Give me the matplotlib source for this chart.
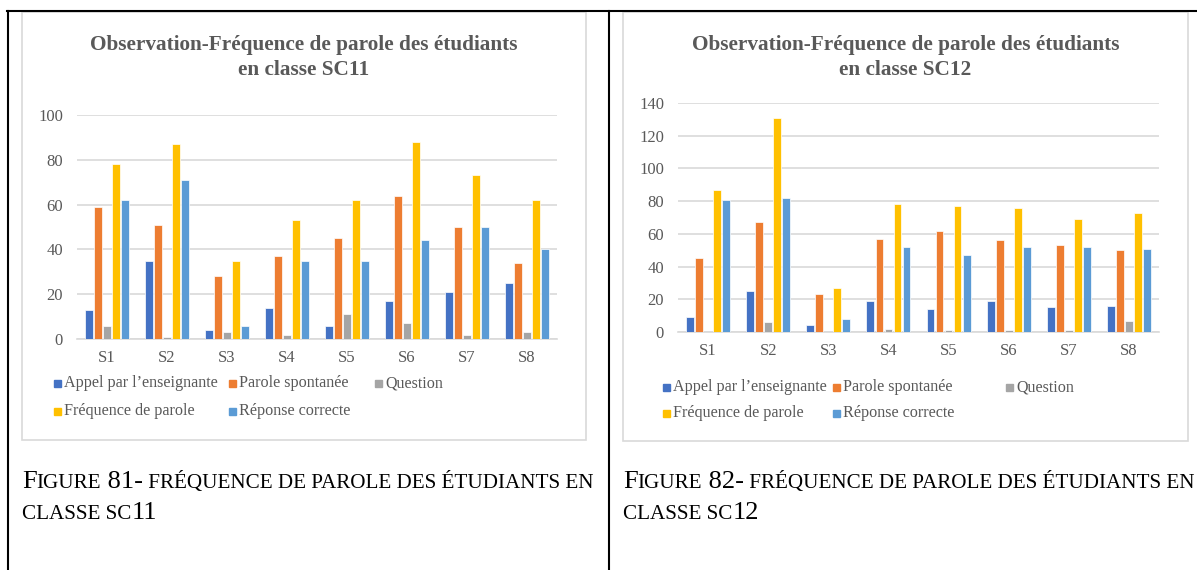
import numpy as np
import matplotlib
matplotlib.use("Agg")
import matplotlib.pyplot as plt
from matplotlib.patches import Rectangle
from matplotlib.lines import Line2D

plt.rcParams['font.family'] = ['Liberation Serif', 'DejaVu Serif']

W, H = 1197, 570

sessions = ['S1', 'S2', 'S3', 'S4', 'S5', 'S6', 'S7', 'S8']
series = ['Appel par l\u2019enseignante', 'Parole spontanée', 'Question',
          'Fréquence de parole', 'Réponse correcte']
colors = ['#4472C4', '#ED7D31', '#A5A5A5', '#FFC000', '#5B9BD5']

# classe SC11
sc11_appel = [13, 35, 4, 14, 6, 17, 21, 25]
sc11_parole = [59, 51, 28, 37, 45, 64, 50, 34]
sc11_question = [6, 1, 3, 2, 11, 7, 2, 3]
sc11_frequence = [78, 87, 35, 53, 62, 88, 73, 62]
sc11_reponse = [62, 71, 6, 35, 35, 44, 50, 40]

# classe SC12
sc12_appel = [9, 25, 4, 19, 14, 19, 15, 16]
sc12_parole = [45, 67, 23, 57, 62, 56, 53, 50]
sc12_question = [0, 6, 0, 2, 1, 1, 1, 7]
sc12_frequence = [87, 131, 27, 78, 77, 76, 69, 73]
sc12_reponse = [81, 82, 8, 52, 47, 52, 52, 51]

TXT = '#595959'
GRID = '#D9D9D9'


def fx(x):
    return x / W


def fy(y):
    return 1 - y / H


fig = plt.figure(figsize=(W / 100, H / 100), dpi=100)

# table borders of the document
fig.add_artist(Line2D([fx(7), fx(1197)], [fy(11), fy(11)], color='black', lw=1.5))
fig.add_artist(Line2D([fx(8), fx(8)], [fy(11), fy(570)], color='black', lw=1.5))
fig.add_artist(Line2D([fx(608.5), fx(608.5)], [fy(11), fy(570)], color='black', lw=1.5))


def chart(box, plot, ymax, data, title, legend_y, legend_x):
    x0, y0, x1, y1 = box
    fig.add_artist(Rectangle((fx(x0), fy(y1)), fx(x1 - x0), (y1 - y0) / H,
                             fill=False, edgecolor=GRID, lw=1.2, zorder=0))
    cx = (x0 + x1) / 2
    fig.text(fx(cx), fy(45), title[0], ha='center', va='center',
             fontsize=15.3, fontweight='bold', color=TXT)
    fig.text(fx(cx), fy(70), title[1], ha='center', va='center',
             fontsize=15.3, fontweight='bold', color=TXT)

    px0, py0, px1, py1 = plot
    ax = fig.add_axes([fx(px0), fy(py1), fx(px1 - px0), (py1 - py0) / H])
    x = np.arange(len(sessions))
    width = 0.13
    for i, vals in enumerate(data):
        ax.bar(x + (i - 2) * 0.15, vals, width, color=colors[i],
               edgecolor='white', linewidth=0.5, zorder=3)
    ax.set_xlim(-0.5, len(sessions) - 0.5)
    ax.set_ylim(0, ymax)
    ax.set_yticks(np.arange(0, ymax + 1, 20))
    ax.set_xticks(x)
    ax.set_xticklabels(sessions)
    ax.grid(axis='y', color=GRID, lw=1.2, zorder=0)
    for s in ['left', 'right', 'top']:
        ax.spines[s].set_visible(False)
    ax.spines['bottom'].set_color(GRID)
    ax.spines['bottom'].set_linewidth(1.2)
    ax.tick_params(length=0, labelsize=12, colors=TXT, pad=8)
    ax.tick_params(axis='y', pad=10)

    # legend, row by row as in the original
    rows = [[0, 1, 2], [3, 4]]
    for r, items in enumerate(rows):
        for c, k in enumerate(items):
            lx = legend_x[c]
            ly = legend_y[r]
            fig.add_artist(Rectangle((fx(lx), fy(ly + 4)), fx(7), 7 / H,
                                     color=colors[k]))
            fig.text(fx(lx + 10), fy(ly), series[k], ha='left', va='center',
                     fontsize=11.6, color=TXT)


chart((22, 12, 586, 440), (77, 115, 557, 339), 100,
      [sc11_appel, sc11_parole, sc11_question, sc11_frequence, sc11_reponse],
      ('Observation-Fréquence de parole des étudiants', 'en classe SC11'),
      (383, 411), (54, 229, 375))
chart((623, 12, 1188, 441), (678, 103, 1159, 332), 140,
      [sc12_appel, sc12_parole, sc12_question, sc12_frequence, sc12_reponse],
      ('Observation-Fréquence de parole des étudiants', 'en classe SC12'),
      (387, 413), (663, 833, 1006))

# captions with small caps
renderer = fig.canvas.get_renderer()


def small_caps(x, y, parts):
    pos = fx(x)
    for s, big in parts:
        t = fig.text(pos, fy(y), s, ha='left', va='baseline',
                     fontsize=19 if big else 15.2, color='black')
        bb = t.get_window_extent(renderer=renderer)
        pos = bb.x1 / W


for x0, num in [(22, ('81', '11')), (623, ('82', '12'))]:
    small_caps(x0, 488, [('F', True), ('IGURE', False), (' ' + num[0] + '-', True),
                         (' FRÉQUENCE DE PAROLE DES ÉTUDIANTS EN', False)])
    small_caps(x0, 519, [('CLASSE SC', False), (num[1], True)])

fig.savefig('out.png', dpi=100)
